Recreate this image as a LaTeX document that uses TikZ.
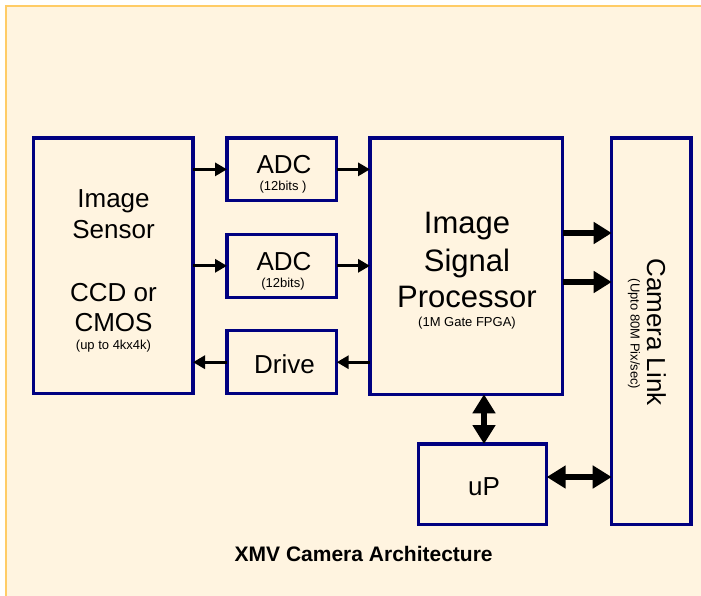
\documentclass[tikz,border=0pt]{standalone}
\usepackage{fontspec}
\setmainfont{Liberation Sans}
\usetikzlibrary{arrows.meta}
\definecolor{boxblue}{RGB}{0,0,128}
\definecolor{cream}{RGB}{255,244,224}
\definecolor{framecol}{RGB}{255,204,102}
\begin{document}
\begin{tikzpicture}[x=1pt,y=-1pt,
  box/.style={rectangle,draw=boxblue,line width=3.2pt,fill=cream,inner sep=0pt,outer sep=0pt},
  txt/.style={anchor=base,inner sep=0pt,text=black},
  big/.style={txt,font=\fontsize{26}{31}\selectfont},
  huge/.style={txt,font=\fontsize{31}{37}\selectfont},
  small/.style={txt,font=\fontsize{13}{15}\selectfont},
  title/.style={txt,font=\fontsize{21}{25}\selectfont\bfseries},
  thinarrow/.style={line width=3pt,-{Triangle[length=12pt,width=13pt]}},
  thickarrow/.style={line width=6pt,-{Triangle[length=18pt,width=21pt]}},
  dblarrow/.style={line width=6pt,{Triangle[length=19pt,width=22pt]}-{Triangle[length=19pt,width=22pt]}}]

% page and background panel
\useasboundingbox (0,0) rectangle (701,595);
\clip (0,0) rectangle (701,595);
\fill[white] (0,0) rectangle (701,595);
\draw[framecol,line width=2.6pt,fill=cream] (6,6) rectangle (730,630);

% blocks
\node[box,minimum width=159.3pt,minimum height=255.7pt] (sensor) at (113.35,265.85) {};
\node[box,minimum width=109.7pt,minimum height=62.7pt] (adc1) at (281.85,169.35) {};
\node[box,minimum width=109.7pt,minimum height=63pt] (adc2) at (281.85,265.8) {};
\node[box,minimum width=109.7pt,minimum height=63pt] (drive) at (281.85,362.2) {};
\node[box,minimum width=192.7pt,minimum height=256.3pt] (isp) at (466.35,266.15) {};
\node[box,minimum width=79.3pt,minimum height=386.3pt] (cam) at (651.35,331.15) {};
\node[box,minimum width=128.4pt,minimum height=80.3pt] (up) at (482.5,484.15) {};

% labels
\node[big] (sensorA) at (113.5,207.5) {Image};
\node[big] (sensorB) at (113.5,238.5) {Sensor};
\node[big] (sensorC) at (113.5,301) {CCD or};
\node[big] (sensorD) at (113.5,331) {CMOS};
\node[small] (sensorE) at (113.5,349.5) {(up to 4kx4k)};

\node[big] (adc1A) at (284,173.5) {ADC};
\node[small] (adc1B) at (283,190) {(12bits )};
\node[big] (adc2A) at (284,270) {ADC};
\node[small] (adc2B) at (283,287) {(12bits)};
\node[big] (driveA) at (284.5,373) {Drive};

\node[huge] (ispA) at (467,233.3) {Image};
\node[huge] (ispB) at (467,271.3) {Signal};
\node[huge] (ispC) at (467,307.7) {Processor};
\node[small] (ispD) at (467,326.5) {(1M Gate FPGA)};

\node[big,rotate=-90] (camA) at (647,332) {Camera Link};
\node[small,rotate=-90] (camB) at (630.5,334) {(Upto 80M Pix/sec)};

\node[big] (upA) at (484,495.5) {uP};

\node[title] (ttl) at (363.7,561.7) {XMV Camera Architecture};

% connectors
\coordinate (busA) at (0,233);
\coordinate (busB) at (0,282);
\coordinate (ctl) at (0,477);
\coordinate (mid) at (484,0);

\draw[thinarrow] (sensor.east |- adc1.west) -- (adc1.west);
\draw[thinarrow] (sensor.east |- adc2.west) -- (adc2.west);
\draw[thinarrow] (adc1.east) -- (adc1.east -| isp.west);
\draw[thinarrow] (adc2.east) -- (adc2.east -| isp.west);
\draw[thinarrow] (isp.west |- drive.east) -- (drive.east);
\draw[thinarrow] (drive.west) -- (drive.west -| sensor.east);

\draw[thickarrow] (isp.east |- busA) -- (cam.west |- busA);
\draw[thickarrow] (isp.east |- busB) -- (cam.west |- busB);

\draw[dblarrow] (isp.south -| mid) -- (up.north -| mid);
\draw[dblarrow] (up.east |- ctl) -- (cam.west |- ctl);
\end{tikzpicture}
\end{document}
